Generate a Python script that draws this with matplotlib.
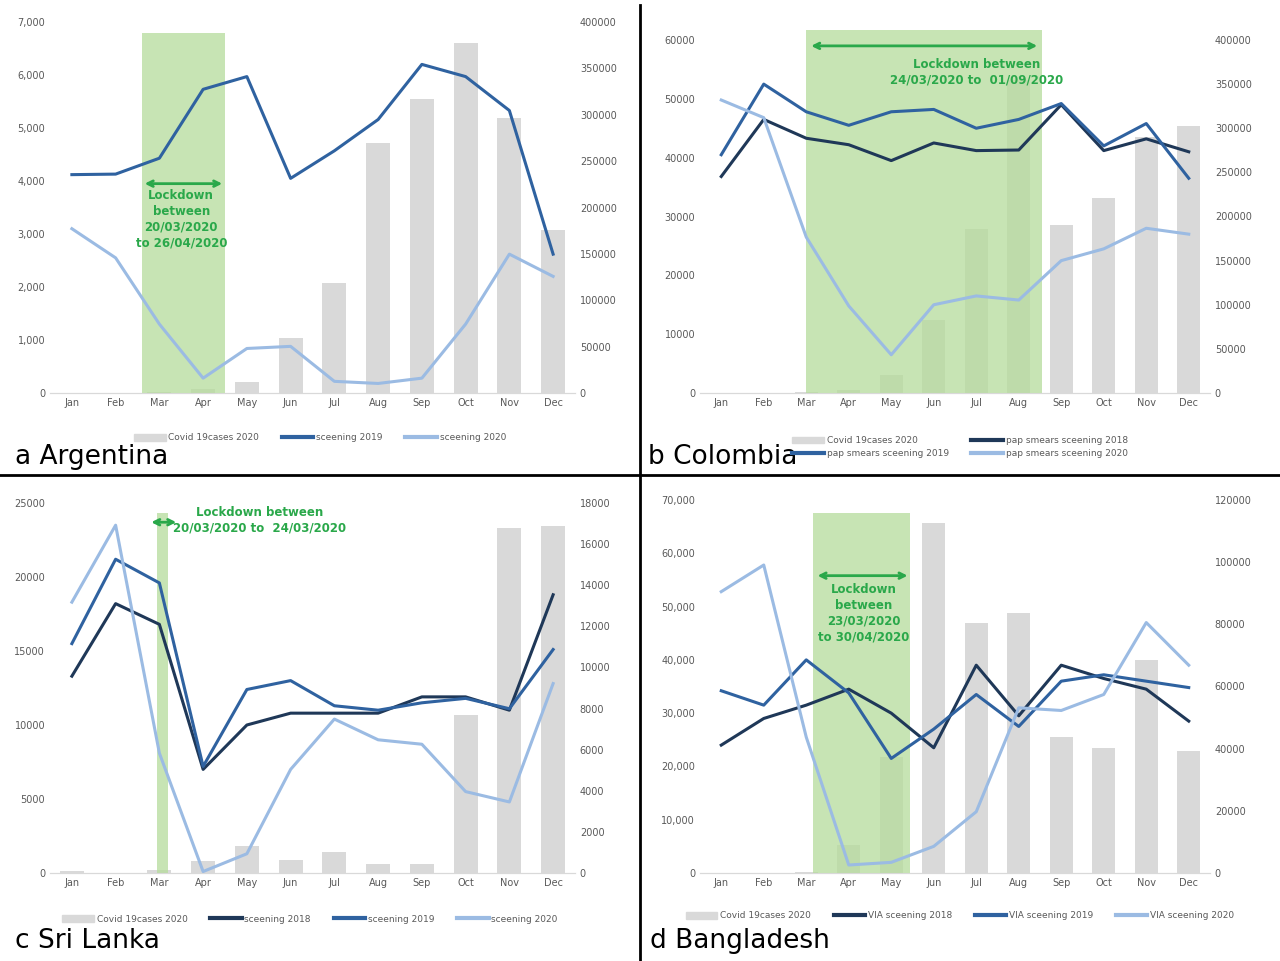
import matplotlib
matplotlib.use("Agg")
import matplotlib.pyplot as plt
from matplotlib.lines import Line2D
from matplotlib.patches import Patch
import numpy as np

months = ["Jan","Feb","Mar","Apr","May","Jun","Jul","Aug","Sep","Oct","Nov","Dec"]

a_covid = [0,0,1000,4000,12000,59000,119000,270000,317000,377000,297000,176000]
a_s2019 = [4120,4130,4430,5730,5970,4050,4570,5160,6200,5970,5330,2620]
a_s2020 = [3100,2550,1300,280,840,880,220,180,280,1300,2620,2200]

b_covid = [0,0,1000,3000,20000,83000,186000,355000,190000,221000,290000,302000]
b_s2018 = [36800,46500,43300,42200,39500,42500,41200,41300,49000,41200,43200,41000]
b_s2019 = [40500,52500,47800,45500,47800,48200,45000,46500,49200,42000,45800,36500]
b_s2020 = [49800,46800,26500,14800,6500,15000,16500,15800,22500,24500,28000,27000]

c_covid = [80,0,150,600,1300,650,1000,450,450,7700,16800,16900]
c_s2018 = [13300,18200,16800,7000,10000,10800,10800,10800,11900,11900,11000,18800]
c_s2019 = [15500,21200,19600,7200,12400,13000,11300,11000,11500,11800,11100,15100]
c_s2020 = [18300,23500,8100,100,1300,7000,10400,9000,8700,5500,4800,12800]

d_covid = [0,0,300,9000,37300,112600,80400,83600,43700,40200,68500,39200]
d_s2018 = [24000,29000,31500,34500,30000,23500,39000,29500,39000,36500,34500,28500]
d_s2019 = [34200,31500,40000,33800,21500,27000,33500,27500,36000,37200,36000,34800]
d_s2020 = [52800,57800,25500,1500,2000,5000,11500,31000,30500,33500,47000,39000]

BAR = "#d9d9d9"; C18 = "#1f3858"; C19 = "#2f62a0"; C20 = "#9bbbe3"; SHADE = "#b5dc9b"; GREEN = "#2aa84a"
W, H = 1280, 961
fig = plt.figure(figsize=(12.8, 9.61), dpi=100)

def px(x0, y0, x1, y1):
    return [x0/W, 1-y1/H, (x1-x0)/W, (y1-y0)/H]

def panel(rect, covid, lines, lmax, lstep, ltop, rmax, rstep, rtop, shade, shade_top, lfmt, lockpos, locktext, arrow, title, tpos, legend_cfg):
    ax = fig.add_axes(px(*rect))
    ax2 = ax.twinx()
    ax.set_zorder(ax2.get_zorder()+1); ax.patch.set_visible(False)
    x = np.arange(12)
    ax2.bar(x, covid, width=0.55, color=BAR, zorder=1)
    ax2.set_ylim(0, rtop)
    ax2.set_yticks(np.arange(0, rmax+1, rstep))
    ax2.set_yticklabels([f"{int(v)}" for v in np.arange(0, rmax+1, rstep)])
    ax.axvspan(shade[0], shade[1], ymax=shade_top/ltop, color=SHADE, alpha=0.75, zorder=0, lw=0)
    for vals, col in lines:
        ax.plot(x, vals, color=col, lw=2.2, zorder=3)
    ax.set_ylim(0, ltop); ax.set_xlim(-0.5, 11.5)
    ticks = np.arange(0, lmax+1, lstep)
    ax.set_yticks(ticks); ax.set_yticklabels([lfmt(v) for v in ticks])
    ax.set_xticks(x); ax.set_xticklabels(months)
    for a in (ax, ax2):
        for s in ["top", "left", "right"]:
            a.spines[s].set_visible(False)
        a.spines["bottom"].set_color("#d9d9d9")
        a.tick_params(length=0, labelsize=7, colors="#595959")
    ax.annotate("", xy=arrow[1], xytext=arrow[0], arrowprops=dict(arrowstyle="<->", color=GREEN, lw=2))
    ax.text(*lockpos, locktext, color=GREEN, fontsize=8.5, fontweight="bold", ha="center", va="top", linespacing=1.3)
    fig.text(tpos[0]/W, 1-tpos[1]/H, title, fontsize=19, va="center", ha="left")
    covid_h = Patch(color=BAR, label="Covid 19cases 2020")
    lh = [Line2D([], [], color=c, lw=3, label=l) for l, c in legend_cfg[0]]
    handles = [covid_h] + lh
    if legend_cfg[2] == 2:
        handles = [covid_h, lh[1], lh[0], lh[2]]
    fig.legend(handles=handles, loc="center", bbox_to_anchor=(legend_cfg[1][0]/W, 1-legend_cfg[1][1]/H),
               ncol=legend_cfg[2], frameon=False, fontsize=6.5, handlelength=3.5, columnspacing=2.5,
               handletextpad=0.3, labelspacing=0.4, labelcolor="#595959")

comma = lambda v: f"{int(v):,}"
plain = lambda v: f"{int(v)}"

panel((50, 22, 575, 393), a_covid, [(a_s2019, C19), (a_s2020, C20)], 7000, 1000, 7000, 400000, 50000, 400000,
      (1.6, 3.5), 6800, comma, (2.5, 3850), "Lockdown\nbetween\n20/03/2020\nto 26/04/2020", ((1.6, 3950), (3.5, 3950)),
      "a Argentina", (15, 457), ([("sceening 2019", C19), ("sceening 2020", C20)], (320, 438), 3))

panel((700, 30, 1210, 393), b_covid, [(b_s2018, C18), (b_s2019, C19), (b_s2020, C20)], 60000, 10000, 61700, 400000, 50000, 411300,
      (2.0, 7.55), 61700, plain, (6.0, 57000), "Lockdown between\n24/03/2020 to  01/09/2020", ((2.05, 59000), (7.5, 59000)),
      "b Colombia", (648, 457), ([("pap smears sceening 2018", C18), ("pap smears sceening 2019", C19), ("pap smears sceening 2020", C20)], (960, 447), 2))

panel((50, 503, 575, 873), c_covid, [(c_s2018, C18), (c_s2019, C19), (c_s2020, C20)], 25000, 5000, 25000, 18000, 2000, 18000,
      (1.95, 2.2), 24300, plain, (4.3, 24800), "Lockdown between\n20/03/2020 to  24/03/2020", ((1.75, 23700), (2.45, 23700)),
      "c Sri Lanka", (15, 941), ([("sceening 2018", C18), ("sceening 2019", C19), ("sceening 2020", C20)], (310, 919), 4))

panel((700, 500, 1210, 873), d_covid, [(d_s2018, C18), (d_s2019, C19), (d_s2020, C20)], 70000, 10000, 70000, 120000, 20000, 120000,
      (2.15, 4.45), 67500, comma, (3.35, 54500), "Lockdown\nbetween\n23/03/2020\nto 30/04/2020", ((2.2, 55800), (4.45, 55800)),
      "d Bangladesh", (650, 941), ([("VIA sceening 2018", C18), ("VIA sceening 2019", C19), ("VIA sceening 2020", C20)], (960, 916), 4))

fig.add_artist(Line2D([640/W, 640/W], [0, 1-5/H], color="black", lw=2))
fig.add_artist(Line2D([0, 1], [1-475/H, 1-475/H], color="black", lw=2))
fig.savefig("out.png", dpi=100, facecolor="white")
